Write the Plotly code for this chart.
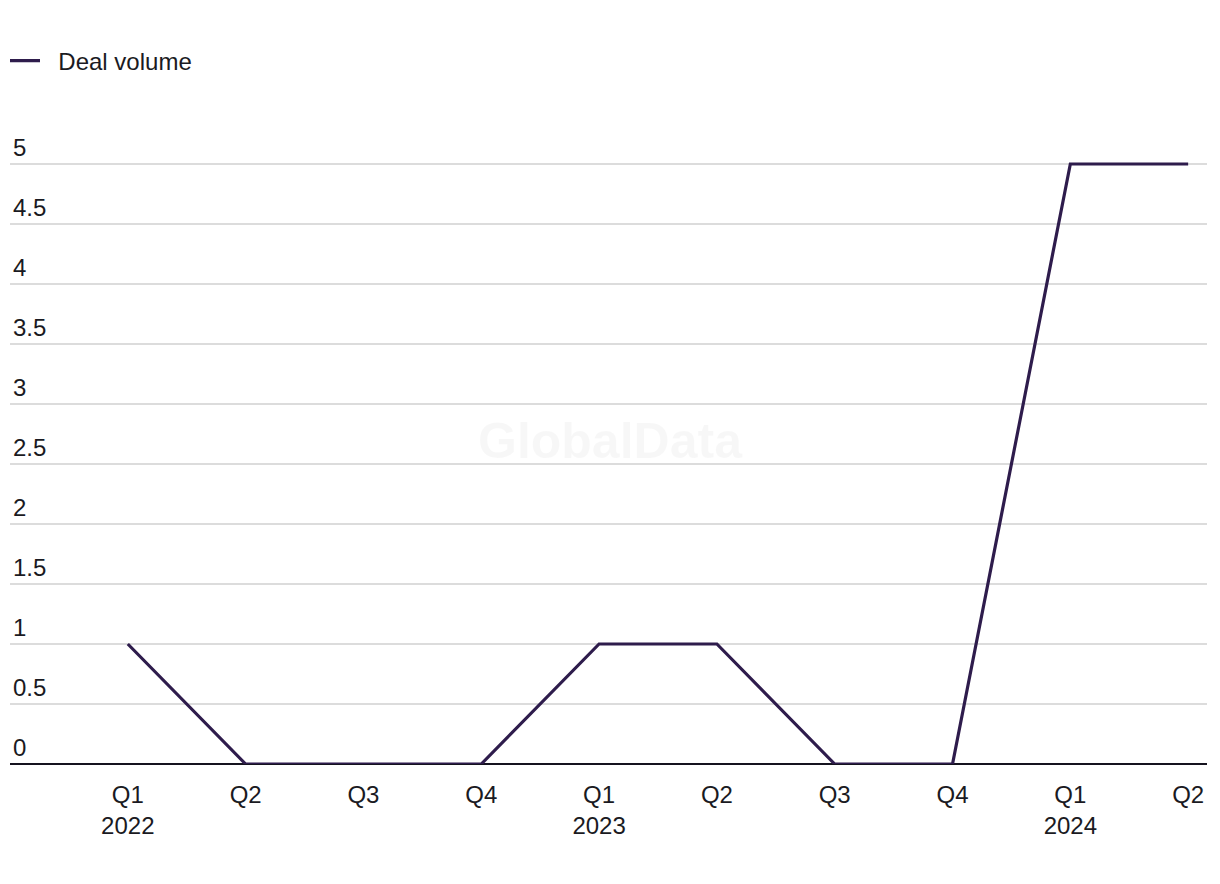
import plotly.graph_objects as go

quarters = ["Q1<br>2022", "Q2", "Q3", "Q4", "Q1<br>2023", "Q2", "Q3", "Q4", "Q1<br>2024", "Q2"]
deal_volume = [1, 0, 0, 0, 1, 1, 0, 0, 5, 5]
y_ticks = [0, 0.5, 1, 1.5, 2, 2.5, 3, 3.5, 4, 4.5, 5]

FONT = "Liberation Sans"
TXT = "#1a1a22"
W, H = 1220, 884
YMAX = 5.55
ML, MR, MB = 10, 13, 120
MT = round(H - MB - YMAX * 120)
PW, PH = W - ML - MR, H - MT - MB
x_idx = list(range(len(quarters)))

fig = go.Figure()
fig.add_trace(go.Scatter(
    x=x_idx, y=deal_volume, mode="lines", name="\u00a0\u00a0Deal volume",
    line=dict(color="#2e1c4c", width=3.2), cliponaxis=False,
))

fig.update_layout(
    width=W, height=H,
    margin=dict(l=ML, r=MR, t=MT, b=MB),
    paper_bgcolor="white", plot_bgcolor="white",
    font=dict(family=FONT, size=24, color=TXT),
    showlegend=True,
    legend=dict(orientation="h", x=5 / W, xanchor="left", xref="container",
                y=1 - 61 / H, yref="container", yanchor="middle",
                font=dict(size=24, color=TXT), itemwidth=30,
                bgcolor="rgba(0,0,0,0)"),
    xaxis=dict(
        range=[-1, 9.16], tickmode="array", tickvals=x_idx, ticktext=quarters,
        showgrid=False, zeroline=False, showline=False, ticks="",
        ticklabelstandoff=14, tickfont=dict(color=TXT, size=24),
    ),
    yaxis=dict(
        range=[0, YMAX], tickmode="array", tickvals=y_ticks,
        ticktext=[("%g" % v) for v in y_ticks],
        showgrid=True, gridcolor="#dcdcdc", gridwidth=1.5,
        zeroline=True, zerolinecolor="#15131f", zerolinewidth=2,
        ticklabelposition="inside top", showline=False, ticks="",
        tickfont=dict(color=TXT, size=24),
    ),
    annotations=[dict(
        text="<b>GlobalData</b>", x=(610 - ML) / PW, y=(H - MB - 441) / PH,
        xref="paper", yref="paper",
        showarrow=False, font=dict(family=FONT, size=50, color="rgba(0,0,0,0.03)"),
    )],
)

fig.write_html("out.html")
